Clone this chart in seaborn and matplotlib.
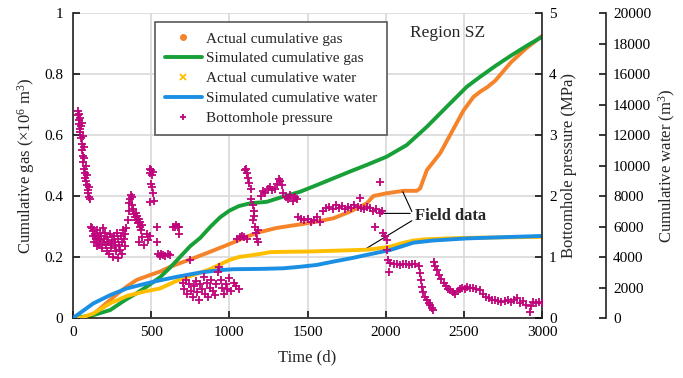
import matplotlib
matplotlib.use("Agg")
import matplotlib.pyplot as plt
from matplotlib.lines import Line2D
import seaborn as sns

# ---- Region SZ production history ----
# Simulated cumulative gas (1e6 m3)
sim_gas_day = [0, 120, 237, 330, 409, 480, 557, 620, 684, 750, 812, 880, 940, 1000,
               1060, 1132, 1239, 1345, 1452, 1560, 1665, 1770, 1879, 2006, 2134, 2263,
               2391, 2518, 2604, 2700, 2800, 2900, 3000]
sim_gas = [0, 0.008, 0.026, 0.058, 0.082, 0.106, 0.134, 0.165, 0.200, 0.236, 0.262,
           0.300, 0.330, 0.352, 0.367, 0.376, 0.381, 0.398, 0.414, 0.436, 0.458, 0.480,
           0.502, 0.529, 0.567, 0.627, 0.693, 0.758, 0.791, 0.826, 0.860, 0.892, 0.922]

# Actual cumulative gas (1e6 m3)
act_gas_day = [0, 60, 109, 170, 237, 290, 343, 407, 493, 560, 621, 700, 770, 876, 983,
               1050, 1111, 1196, 1300, 1400, 1452, 1559, 1665, 1772, 1879, 1921, 2006,
               2113, 2198, 2220, 2263, 2348, 2433, 2497, 2561, 2604, 2650, 2700, 2800,
               2900, 3000]
act_gas = [0, 0, 0.002, 0.030, 0.059, 0.082, 0.103, 0.125, 0.141, 0.153, 0.168, 0.183,
           0.196, 0.217, 0.239, 0.253, 0.267, 0.282, 0.295, 0.303, 0.307, 0.316, 0.327,
           0.349, 0.376, 0.400, 0.409, 0.417, 0.417, 0.425, 0.485, 0.540, 0.620, 0.680,
           0.725, 0.742, 0.757, 0.778, 0.838, 0.885, 0.925]

# Actual cumulative water (m3)
act_water_day = [0, 60, 130, 237, 343, 450, 557, 663, 770, 876, 950, 1000, 1060, 1132,
                 1196, 1260, 1350, 1500, 1700, 1879, 1950, 2028, 2100, 2177, 2250, 2400,
                 2518, 2700, 3000]
act_water = [0, 40, 300, 960, 1440, 1720, 1940, 2440, 2820, 3200, 3560, 3800, 4000, 4100,
             4200, 4320, 4340, 4360, 4420, 4480, 4560, 4680, 4900, 5080, 5160, 5220,
             5260, 5280, 5320]

# Simulated cumulative water (m3)
sim_water_day = [0, 130, 237, 343, 514, 663, 812, 940, 1025, 1196, 1345, 1452, 1559,
                 1665, 1779, 1879, 2028, 2177, 2300, 2518, 2750, 3000]
sim_water = [0, 960, 1500, 1940, 2380, 2700, 2980, 3140, 3200, 3220, 3260, 3360, 3480,
             3700, 3920, 4140, 4460, 4940, 5080, 5220, 5300, 5380]

# Bottomhole pressure field records (MPa)
bhp_day = [30, 33, 36, 38, 40, 42, 45, 47, 50, 52, 55, 57, 60, 62, 64, 66, 68, 70, 72, 75,
           78, 80, 83, 86, 90, 93, 96, 100, 104, 108,
           115, 120, 125, 130, 135, 140, 145, 150, 155, 160, 165, 170, 175, 180, 185, 190,
           195, 200, 205, 210, 215, 220, 225, 230, 235, 240, 245, 250, 255, 260, 265, 270,
           275, 280, 285, 290, 295, 300, 305, 310, 315, 320, 325, 330, 335, 340,
           350, 355, 360, 365, 370, 375, 380, 385, 390, 395, 400, 405, 410, 415, 420, 425,
           430, 435, 440, 420, 440, 455, 470, 480, 495,
           490, 495, 500, 505, 510, 498, 506, 490, 520, 512,
           535, 536, 545, 555, 565, 575, 590, 605, 620, 640, 650, 660, 670, 680, 675,
           700, 710, 720, 730, 740, 750, 755, 765, 775, 785, 795, 805, 815, 825, 835, 845,
           855, 865, 875, 885, 895, 905, 915, 925, 935, 945, 955, 965, 975, 985, 995, 1010,
           1030, 1045, 1060,
           1050, 1065, 1080, 1095, 1110,
           1100, 1108, 1115, 1120, 1125, 1135,
           1140, 1148, 1155, 1160, 1165, 1170, 1175, 1180, 1150, 1185,
           1200, 1215, 1230, 1245, 1260, 1275, 1290, 1305, 1315, 1325, 1335, 1345, 1360,
           1375, 1390, 1405, 1420, 1435,
           1440, 1460, 1480, 1500, 1520, 1540, 1560, 1580,
           1600, 1620, 1640, 1660, 1680, 1700, 1720, 1740, 1760, 1780, 1800, 1820, 1836,
           1840, 1860, 1880, 1900, 1920, 1940, 1960, 1964, 1975,
           1932, 1980, 1995, 2010, 2006, 2015, 2020,
           2030, 2050, 2070, 2090, 2110, 2130, 2150, 2170, 2190, 2210,
           2220, 2225, 2230, 2240, 2250, 2263, 2275, 2284, 2295, 2305,
           2306, 2315, 2325, 2340, 2355, 2370, 2385, 2400, 2412, 2430, 2444, 2460, 2476,
           2490, 2505, 2520, 2540, 2560, 2580, 2600, 2620, 2640, 2660, 2680, 2700, 2720,
           2740, 2760, 2780, 2800, 2820, 2840, 2860, 2880, 2900, 2920, 2930, 2945, 2960,
           2980, 3000]
bhp_mpa = [3.40, 3.32, 3.25, 3.35, 3.18, 3.10, 3.28, 3.05, 3.15, 2.95, 3.20, 2.85, 2.75,
           2.98, 2.65, 2.55, 2.80, 2.45, 2.62, 2.38, 2.30, 2.50, 2.25, 2.18, 2.35, 2.10,
           2.05, 2.15, 1.98, 1.95,
           1.50, 1.48, 1.35, 1.42, 1.25, 1.38, 1.30, 1.18, 1.45, 1.33, 1.22, 1.40, 1.28,
           1.35, 1.15, 1.48, 1.25, 1.30, 1.40, 1.20, 1.10, 1.32, 1.25, 1.05, 1.38, 1.22,
           1.15, 1.28, 1.00, 1.35, 1.18, 1.25, 1.10, 1.40, 0.98, 1.30, 1.20, 1.12, 1.35,
           1.25, 1.05, 1.45, 1.30, 1.18, 1.38, 1.48,
           1.60, 1.75, 1.88, 1.95, 2.02, 1.98, 1.85, 1.78, 1.70, 1.65, 1.72, 1.60, 1.68,
           1.55, 1.62, 1.50, 1.58, 1.45, 1.52, 1.25, 1.32, 1.20, 1.38, 1.28, 1.35,
           2.38, 2.45, 2.42, 2.35, 2.40, 2.20, 2.15, 1.90, 1.92, 2.05,
           1.50, 1.25, 1.05, 1.02, 1.05, 1.03, 1.02, 1.05, 1.04, 1.50, 1.50, 1.52, 1.50,
           1.49, 1.37,
           0.58, 0.48, 0.62, 0.40, 0.55, 0.95, 0.45, 0.35, 0.52, 0.60, 0.42, 0.30, 0.55,
           0.48, 0.67, 0.40, 0.58, 0.35, 0.50, 0.62, 0.45, 0.38, 0.55, 0.75, 0.84, 0.62,
           0.50, 0.40, 0.55, 0.48, 0.65, 0.45, 0.58, 0.52, 0.48,
           1.30, 1.32, 1.35, 1.33, 1.30,
           2.42, 2.45, 2.38, 2.30, 2.22, 2.12,
           1.95, 1.85, 1.75, 1.68, 1.50, 1.40, 1.30, 1.25, 1.60, 1.45,
           2.00, 2.08, 2.05, 2.12, 2.15, 2.10, 2.12, 2.20, 2.28, 2.25, 2.18, 2.05, 1.98,
           1.95, 2.02, 1.92, 1.98, 1.95,
           1.65, 1.62, 1.60, 1.62, 1.58, 1.60, 1.65, 1.58,
           1.75, 1.80, 1.82, 1.78, 1.85, 1.80, 1.83, 1.78, 1.82, 1.80, 1.85, 1.82, 1.97,
           1.80, 1.78, 1.82, 1.80, 1.75, 1.78, 1.72, 2.23, 1.76,
           1.50, 1.40, 1.35, 1.28, 1.11, 0.95, 0.76,
           0.90, 0.88, 0.89, 0.87, 0.88, 0.88, 0.87, 0.88, 0.88, 0.86,
           0.74, 0.62, 0.51, 0.42, 0.35, 0.30, 0.24, 0.21, 0.16, 0.13,
           0.92, 0.85, 0.79, 0.70, 0.64, 0.58, 0.53, 0.48, 0.46, 0.42, 0.40, 0.45, 0.47,
           0.50, 0.48, 0.51, 0.50, 0.49, 0.48, 0.46, 0.40, 0.35, 0.33, 0.30, 0.30, 0.28,
           0.27, 0.28, 0.29, 0.26, 0.30, 0.33, 0.25, 0.28, 0.22, 0.10, 0.20, 0.26, 0.24,
           0.27, 0.25]

gas_ticks = [0, 0.2, 0.4, 0.6, 0.8, 1.0]
gas_ticklabels = ["0", "0.2", "0.4", "0.6", "0.8", "1"]
bhp_ticks = [0, 1, 2, 3, 4, 5]
water_ticks = [0, 2000, 4000, 6000, 8000, 10000, 12000, 14000, 16000, 18000, 20000]
day_ticks = [0, 500, 1000, 1500, 2000, 2500, 3000]

C_ACT_GAS = "#F5832A"
C_SIM_GAS = "#18A038"
C_ACT_WAT = "#FFBF00"
C_SIM_WAT = "#1A8FE3"
C_BHP = "#C0047C"

sns.set_style("ticks")
plt.rcParams["font.family"] = ["Liberation Serif", "DejaVu Serif"]
plt.rcParams["mathtext.fontset"] = "custom"
plt.rcParams["mathtext.rm"] = "Liberation Serif"
plt.rcParams["mathtext.it"] = "Liberation Serif:italic"

fig = plt.figure(figsize=(6.83, 3.78), dpi=100)
ax = fig.add_axes([0.107, 0.1587, 0.6867, 0.8069])
ax3 = ax.twinx()   # cumulative water, offset axis
ax2 = ax.twinx()   # bottomhole pressure

# Cumulative gas
sns.lineplot(x=act_gas_day, y=act_gas, ax=ax, color=C_ACT_GAS, lw=2.8, legend=False)
sns.lineplot(x=sim_gas_day, y=sim_gas, ax=ax, color=C_SIM_GAS, lw=2.8, legend=False)

# Cumulative water
sns.lineplot(x=act_water_day, y=act_water, ax=ax3, color=C_ACT_WAT, lw=2.8, legend=False)
sns.lineplot(x=sim_water_day, y=sim_water, ax=ax3, color=C_SIM_WAT, lw=2.8, legend=False)

# Bottomhole pressure
sns.scatterplot(x=bhp_day, y=bhp_mpa, ax=ax2, marker="+", s=30, color=C_BHP,
                linewidth=1.3, legend=False, zorder=3)

ax.set_xlim(0, 3000)
ax.set_ylim(0, 1)
ax2.set_ylim(0, 5)
ax3.set_ylim(0, 20000)

ax.set_xticks(day_ticks)
ax.set_xticklabels([str(d) for d in day_ticks])
ax.set_yticks(gas_ticks)
ax.set_yticklabels(gas_ticklabels)
ax2.set_yticks(bhp_ticks)
ax2.set_yticklabels([str(v) for v in bhp_ticks])
ax3.set_yticks(water_ticks)
ax3.set_yticklabels([str(v) for v in water_ticks])

ax.grid(True, color="#D9D9D9", lw=1.2)
ax.set_axisbelow(True)

for a in (ax, ax2, ax3):
    a.tick_params(direction="in", length=5, width=1.1, labelsize=11, colors="black")
    for s in a.spines.values():
        s.set_linewidth(1.2)
        s.set_color("#222222")

ax.spines["top"].set_visible(False)
ax.spines["right"].set_visible(False)
for side in ("top", "left", "bottom"):
    ax2.spines[side].set_visible(False)
    ax3.spines[side].set_visible(False)
ax2.spines["right"].set_visible(True)
ax3.spines["right"].set_position(("axes", 1.1365))
ax.tick_params(axis="x", pad=6)
ax.tick_params(axis="y", pad=7)
ax2.tick_params(axis="y", pad=5)
ax3.tick_params(axis="y", pad=5)

ax.set_xlabel("Time (d)", fontsize=12, labelpad=7)
ax.set_ylabel("Cumulative gas ($\\times$10$^{6}$ m$^{3}$)", fontsize=12, labelpad=5)
ax2.set_ylabel("Bottomhole pressure (MPa)", fontsize=12, labelpad=3)
ax3.set_ylabel("Cumulative water (m$^{3}$)", fontsize=12, labelpad=4)

ax.text(2156, 0.934, "Region SZ", fontsize=12.5, ha="left", va="center")

# Field data call-outs
line_kw = dict(arrowstyle="-", color="black", lw=0.8, shrinkA=0, shrinkB=0)
ax.annotate("", xy=(2109, 0.414), xytext=(2167, 0.349), arrowprops=line_kw)
ax.annotate("", xy=(1975, 0.343), xytext=(2156, 0.343), arrowprops=line_kw)
ax.annotate("", xy=(1879, 0.229), xytext=(2167, 0.319), arrowprops=line_kw)
ax.text(2185, 0.336, "Field data", fontsize=12, fontweight="bold", ha="left", va="center")

handles = [
    Line2D([], [], ls="none", marker="o", ms=4, color=C_ACT_GAS),
    Line2D([], [], color=C_SIM_GAS, lw=2.8),
    Line2D([], [], ls="none", marker="x", ms=4, mew=1.3, color=C_ACT_WAT),
    Line2D([], [], color=C_SIM_WAT, lw=2.8),
    Line2D([], [], ls="none", marker="+", ms=5, mew=1.3, color=C_BHP),
]
labels = ["Actual cumulative gas", "Simulated cumulative gas", "Actual cumulative water",
          "Simulated cumulative water", "Bottomhole pressure"]
leg = fig.legend(handles, labels, loc="upper left", bbox_to_anchor=(155 / 683, 1 - 22 / 378),
                 fontsize=11, frameon=True, fancybox=False, framealpha=1,
                 edgecolor="#595959", handlelength=2.4, handletextpad=0.3,
                 labelspacing=0.4, borderpad=0.65, borderaxespad=0)
leg.get_frame().set_linewidth(1.2)

fig.savefig("out.png", dpi=100)
